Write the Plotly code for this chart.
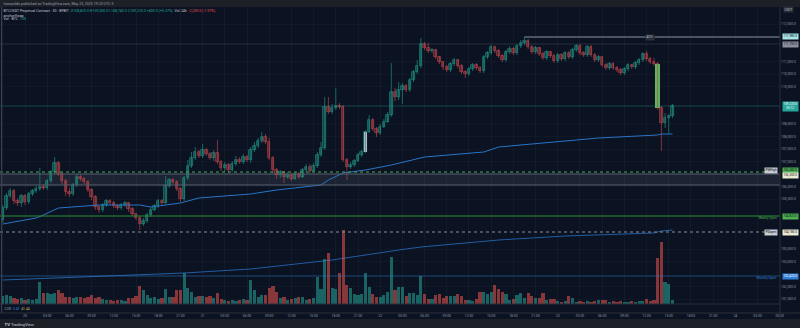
import pandas as pd
import plotly.graph_objects as go

# ---------------- data ----------------
symbol_title = "BTCUSDT Perpetual Contract · 30 · BYBIT"
publish_line = "lowcooldo published on TradingView.com, May 23, 2025 19:23 UTC-3"

start_time = "2025-05-19 21:00"
first_open = 104660

closes = [
    105140, 105620, 105820, 105420, 105340, 105620, 105380, 105700, 105820, 105900,
    105980, 105940, 106220, 106580, 106940, 106500, 106220, 105780, 105700, 106060,
    106380, 106300, 106180, 105860, 105580, 105180, 105060, 105260, 105420, 105340,
    105220, 105140, 105260, 105340, 105100, 104900, 104740, 104500, 104620, 104860,
    105060, 105220, 105420, 105340, 106020, 106260, 106180, 105900, 105500, 106340,
    106820, 107140, 107380, 107220, 107460, 107300, 107140, 107340, 106980, 106740,
    106860, 106660, 106900, 107060, 106980, 107180, 107060, 107460, 107620, 107820,
    107980, 107780, 107140, 106660, 106460, 106580, 106380, 106460, 106300, 106500,
    106380, 106660, 106780, 106620, 106820, 107260, 107540, 109180, 108980, 109140,
    109220, 109180, 107060, 106780, 106860, 107020, 107260, 107380, 108180, 108660,
    108300, 108140, 108380, 108580, 108860, 109780, 109580, 109860, 110020, 109860,
    110260, 110580, 110820, 111700, 111540, 111420, 111460, 111180, 110980, 110780,
    110660, 110900, 111060, 110820, 110580, 110500, 110700, 110860, 110740, 110620,
    111180, 111340, 111580, 111420, 111220, 111060, 111380, 111500, 111340, 111620,
    111740, 111820, 111580, 111380, 111540, 111300, 111140, 111380, 111220, 111020,
    111260, 111100, 111340, 111180, 111460, 111620, 111340, 111260, 111580, 111260,
    111060, 111180, 110860, 110740, 110900, 110740, 110660, 110540, 110700, 110860,
    110780, 110940, 111060, 111300, 111100, 110980, 110900, 109140, 108540, 108740,
    108820, 109220,
]
highs = [
    105260, 105740, 105940, 105900, 105540, 105700, 105700, 105780, 105900, 106020,
    106740, 106100, 106300, 106660, 107180, 107020, 106580, 106300, 105940, 106140,
    106500, 106460, 106380, 106260, 105940, 105660, 105260, 105340, 105500, 105500,
    105420, 105300, 105340, 105420, 105380, 105180, 104940, 104820, 104740, 104940,
    105180, 105300, 105500, 105500, 106420, 106340, 106340, 106260, 105980, 106420,
    107060, 107380, 107580, 107460, 107700, 107540, 107380, 107460, 107860, 107060,
    106980, 106940, 107020, 107220, 107180, 107300, 107260, 107580, 107780, 107940,
    108180, 108100, 107940, 107220, 106740, 106660, 106620, 106580, 106540, 106580,
    106580, 106740, 106900, 106900, 106940, 107380, 107780, 109580, 109580, 109300,
    109940, 109340, 109260, 107140, 106980, 107100, 107340, 107460, 108260, 108860,
    108740, 108380, 108500, 108700, 108980, 110940, 109940, 110180, 110140, 110100,
    110340, 110660, 111060, 111940, 111780, 111740, 111540, 111500, 111220, 111020,
    110860, 110980, 111140, 111100, 110900, 110660, 110780, 110940, 110940, 110820,
    111260, 111420, 111660, 111620, 111500, 111300, 111460, 111620, 111580, 111700,
    111860, 111980, 111900, 111660, 111620, 111580, 111380, 111460, 111420, 111300,
    111340, 111340, 111420, 111420, 111540, 111700, 111700, 111420, 111660, 111660,
    111340, 111260, 111220, 110940, 110980, 110980, 110820, 110740, 110780, 110940,
    110900, 111020, 111140, 111380, 111420, 111180, 111140, 110980, 109220, 108940,
    108900, 109300,
]
lows = [
    104540, 105060, 105540, 105300, 105220, 105180, 105260, 105300, 105620, 105740,
    105820, 105860, 105860, 106140, 106500, 106420, 106100, 105620, 105580, 105620,
    105980, 106220, 106100, 105780, 105460, 105060, 104940, 104980, 105180, 105260,
    105140, 105060, 105060, 105180, 104980, 104820, 104660, 104260, 104420, 104540,
    104780, 105020, 105140, 105260, 105300, 105940, 106100, 105820, 105380, 105420,
    106260, 106740, 107060, 107140, 107140, 107220, 107060, 107020, 106900, 106620,
    106580, 106540, 106580, 106820, 106900, 106900, 106980, 106940, 107380, 107540,
    107740, 107700, 107060, 106540, 106300, 106340, 106140, 106300, 106220, 106260,
    106300, 106340, 106580, 106540, 106580, 106740, 107180, 107460, 108900, 108900,
    109060, 109100, 106980, 106260, 106700, 106780, 106980, 107180, 107340, 108140,
    108220, 107980, 108060, 108340, 108540, 108780, 109420, 109460, 109300, 109780,
    109780, 110180, 110500, 110740, 111460, 111340, 111340, 111100, 110900, 110660,
    110580, 110580, 110820, 110740, 110500, 110340, 110420, 110620, 110660, 110540,
    110540, 111100, 111260, 111340, 111140, 110980, 110980, 111300, 111260, 111260,
    111540, 111660, 111500, 111300, 111300, 111220, 111060, 111060, 111140, 110940,
    110940, 111020, 111020, 111100, 111100, 111380, 111260, 111180, 111180, 111180,
    110980, 110980, 110780, 110660, 110660, 110660, 110580, 110460, 110460, 110620,
    110700, 110700, 110860, 110980, 111020, 110900, 110820, 109060, 107420, 108340,
    108140, 108740,
]
volumes = [
    200, 225, 200, 150, 125, 150, 100, 125, 100, 125,
    550, 275, 275, 250, 275, 350, 275, 175, 175, 150,
    175, 175, 150, 175, 225, 150, 175, 125, 100, 100,
    75, 100, 100, 75, 150, 150, 200, 450, 350, 225,
    150, 175, 125, 150, 375, 175, 175, 350, 350, 775,
    400, 300, 175, 200, 200, 175, 200, 150, 275, 125,
    100, 75, 100, 75, 100, 125, 100, 600, 350, 175,
    225, 225, 400, 450, 300, 150, 175, 100, 125, 150,
    175, 175, 100, 125, 150, 675, 375, 1125, 1275, 400,
    375, 775, 1850, 475, 400, 250, 225, 250, 775, 425,
    250, 175, 175, 225, 300, 1175, 350, 425, 425, 200,
    275, 275, 225, 700, 250, 125, 125, 225, 250, 150,
    200, 200, 200, 250, 200, 100, 100, 75, 125, 300,
    300, 250, 300, 475, 375, 300, 250, 100, 125, 225,
    275, 150, 275, 200, 150, 150, 275, 100, 125, 125,
    75, 50, 75, 200, 150, 50, 75, 50, 75, 50,
    75, 100, 100, 100, 50, 75, 50, 75, 50, 50,
    75, 50, 75, 75, 125, 75, 100, 1150, 1550, 550,
    500, 100,
]

# session VWAP (candle index, value) and a slower anchored VWAP
vwap_idx = [0, 9, 11, 15, 26, 37, 40, 48, 53, 67, 74, 86, 88, 92, 98, 105,
            114, 121, 130, 134, 148, 161, 177, 178, 181]
vwap_val = [104500, 104740, 104860, 105140, 105260, 105260, 105180, 105340,
            105540, 105700, 105860, 106060, 106260, 106540, 106660, 106860,
            107180, 107260, 107380, 107580, 107780, 107940, 108060, 108100, 108100]
avwap_idx = [0, 49, 67, 89, 107, 113, 134, 152, 176, 178, 181]
avwap_val = [102260, 102540, 102700, 103060, 103460, 103580, 103860, 104020,
             104140, 104220, 104260]

# horizontal reference levels
day_high = 111700
pw_high = 106580
zone_top, zone_bottom = 106500, 106060
weekly_open = 104820
pd_open = 104180
monthly_level = 102420

# candles drawn with a highlight colour
highlight_idx = [98, 177]

# ---------------- derived ----------------
n = len(closes)
times = pd.date_range(start_time, periods=n, freq="30min")
opens = [first_open] + closes[:-1]
up = [c >= o for o, c in zip(opens, closes)]
half_hour_ms = 30 * 60 * 1000

UP_LINE, DN_LINE = "#1f8c80", "#b4434a"
UP_FILL, DN_FILL = "rgba(38,166,154,0.28)", "rgba(239,83,80,0.26)"
BG = "#0b1221"
TXT = "#8f95a3"

fig = go.Figure()

# volume (overlay, own axis)
fig.add_trace(go.Bar(
    x=times, y=volumes, yaxis="y2", width=0.86 * half_hour_ms,
    marker=dict(color=["rgba(38,166,154,0.55)" if u else "rgba(239,83,80,0.55)" for u in up],
                line=dict(width=0)),
    hoverinfo="skip",
))

# wicks
for is_up, col in ((True, UP_LINE), (False, DN_LINE)):
    wx, wy = [], []
    for i in range(n):
        if up[i] == is_up:
            wx += [times[i], times[i], None]
            wy += [lows[i], highs[i], None]
    fig.add_trace(go.Scatter(x=wx, y=wy, mode="lines", line=dict(color=col, width=0.7),
                             hoverinfo="skip"))

# bodies
for is_up, line_c, fill_c in ((True, UP_LINE, UP_FILL), (False, DN_LINE, DN_FILL)):
    idx = [i for i in range(n) if up[i] == is_up]
    fig.add_trace(go.Bar(
        x=[times[i] for i in idx],
        base=[min(opens[i], closes[i]) for i in idx],
        y=[max(abs(closes[i] - opens[i]), 25) for i in idx],
        width=0.66 * half_hour_ms,
        marker=dict(color=fill_c, line=dict(color=line_c, width=0.7)),
        hoverinfo="skip",
    ))

# highlighted candles
hl_colors = {98: "#b7bac3", 177: "rgba(92,196,96,0.92)"}
hl_width = {98: 0.8, 177: 1.45}
for i in highlight_idx:
    fig.add_trace(go.Bar(
        x=[times[i]], base=[min(opens[i], closes[i])], y=[abs(closes[i] - opens[i])],
        width=hl_width[i] * half_hour_ms,
        marker=dict(color=hl_colors[i], line=dict(width=0)), hoverinfo="skip",
    ))

# VWAP lines
fig.add_trace(go.Scatter(x=[times[i] for i in vwap_idx], y=vwap_val, mode="lines",
                         line=dict(color="#2a74c6", width=1.0), hoverinfo="skip"))
fig.add_trace(go.Scatter(x=[times[i] for i in avwap_idx], y=avwap_val, mode="lines",
                         line=dict(color="#2566b0", width=0.9), hoverinfo="skip"))

# ---------------- levels ----------------
ath_i = max(range(n), key=lambda i: highs[i])
ath = highs[ath_i]
last = closes[-1]

shapes = []
def hline(price, color, width=1, dash="solid"):
    shapes.append(dict(type="line", xref="paper", yref="y", x0=0, x1=1,
                       y0=price, y1=price, line=dict(color=color, width=width, dash=dash)))

shapes.append(dict(type="rect", xref="paper", yref="y", x0=0, x1=1, y0=zone_bottom, y1=zone_top,
                   fillcolor="rgba(120,128,150,0.16)", line=dict(width=0), layer="below"))
hline(zone_top, "#5b6070", 1)
hline(zone_bottom, "#5b6070", 1)
hline(day_high, "rgba(120,130,150,0.25)", 1)
hline(last, "rgba(38,166,154,0.35)", 1)
hline(pw_high, "#4caf50", 1, "dot")
hline(weekly_open, "#2e8b37", 1.1)
hline(pd_open, "#8a8e99", 1, "dot")
hline(monthly_level, "rgba(47,127,214,0.5)", 1.1)
# ATH line from the candle that set it
shapes.append(dict(type="line", xref="x", yref="y", x0=times[ath_i], x1=times[-1] + pd.Timedelta(hours=15),
                   y0=ath, y1=ath, line=dict(color="#8d95a6", width=1)))

# pane / frame separators
PANE_Y = 9 / 306
shapes += [
    dict(type="rect", xref="paper", yref="paper", x0=-0.01, x1=1.03, y0=1.0, y1=1.03,
         fillcolor="#1d2027", line=dict(width=0), layer="above"),
    dict(type="rect", xref="paper", yref="paper", x0=-0.01, x1=1.03, y0=-0.05, y1=-0.0196,
         fillcolor="#1d2027", line=dict(width=0)),
    dict(type="line", xref="paper", yref="paper", x0=0, x1=1.03, y0=0, y1=0,
         line=dict(color="#2a2f3c", width=1)),
    dict(type="line", xref="paper", yref="paper", x0=0, x1=1, y0=PANE_Y, y1=PANE_Y,
         line=dict(color="#2a2f3c", width=1)),
    dict(type="line", xref="paper", yref="paper", x0=1, x1=1, y0=-0.0196, y1=1,
         line=dict(color="#2a2f3c", width=1)),
    dict(type="line", xref="paper", yref="paper", x0=0.002, x1=0.002, y0=0, y1=1,
         line=dict(color="#3a3f4d", width=1.2)),
]

# ---------------- text ----------------
def fmt(p):
    return f"{p:,.1f}"

ann = []
def txt(x, y, s, color=TXT, size=3.6, xanchor="left", bg=None):
    ann.append(dict(xref="paper", yref="paper", x=x, y=y, text=s, showarrow=False,
                    xanchor=xanchor, yanchor="middle",
                    font=dict(size=size, color=color, family="Roboto"),
                    bgcolor=bg, borderpad=0.6))

def ypaper(px):
    return (313 - px) / 306

txt(0.003, ypaper(3.5), publish_line, "#9ca1ad", 3.6)

chg = last - opens[-1]
day_ref = closes[-49]
dchg = last - day_ref
g = "#26a69a"
line1 = (f"{symbol_title}  <span style='color:{g}'>O{fmt(opens[-1])} H{fmt(highs[-1])} "
         f"L{fmt(lows[-1])} C{fmt(last)} {chg:+,.1f} ({chg / opens[-1] * 100:+.2f}%)</span>"
         f"  Vol 24h  <span style='color:#ef5350'>{dchg:+,.1f} ({dchg / day_ref * 100:+.2f}%)</span>")
txt(0.003, ypaper(11), line1, "#c3c7d0", 3.6)
txt(0.003, ypaper(15), "anchorVwap", "#c3c7d0", 3.6)
txt(0.003, ypaper(19), f"Vol · BTC  <span style='color:{g}'>{volumes[-1]}</span>", "#c3c7d0", 3.6)

# right-axis price tags
tag_prices = []
def tag(price, bg, fc, text=None, shift=0):
    tag_prices.append(price)
    ann.append(dict(xref="paper", yref="y", x=1.002, y=price, text=text or fmt(price),
                    showarrow=False, xanchor="left", yanchor="middle", yshift=shift,
                    font=dict(size=3.1, color=fc, family="Roboto"), bgcolor=bg, borderpad=0.4))

tag(ath, "#a9e4e6", "#0b1221", shift=0.8)
tag(day_high, "#8b909c", "#0b1221", shift=-0.8)
tag(last, "#26a69a", "#ffffff", f"{fmt(last)}<br>06:12")
tag(pw_high, "#4caf50", "#0b1221", shift=1.8)
tag(zone_top, "#ecebd2", "#0b1221", shift=-1.8)
tag(weekly_open, "#4caf50", "#0b1221")
tag(pd_open, "#ecebd2", "#0b1221")
tag(monthly_level, "#2f7fd6", "#ffffff")
ann.append(dict(xref="paper", yref="paper", x=1.004, y=ypaper(9.5), text="USDT", showarrow=False,
                xanchor="left", yanchor="middle", font=dict(size=3.0, color="#c3c7d0"),
                bgcolor="#2a2e39", borderpad=0.5))

# in-chart level captions
def cap(price, s, color, bg=None, shift=0):
    ann.append(dict(xref="paper", yref="y", x=0.998, y=price, text=s, showarrow=False,
                    xanchor="right", yanchor="middle", yshift=shift,
                    font=dict(size=3.2, color=color, family="Roboto"), bgcolor=bg, borderpad=0.4))

ann.append(dict(xref="x", yref="y", x=times[-1] - pd.Timedelta(hours=3), y=ath, text="ATH",
                showarrow=False, font=dict(size=3.2, color="#c3c7d0"), bgcolor="#2a2f3c",
                borderpad=0.4))
cap(pw_high, "PWHigh", "#0b1221", "#c8cbd2", 1.5)
cap(weekly_open, "Weekly Open", "#4caf50", None, -2.5)
cap(pd_open, "PDopen", "#0b1221", "#c8cbd2")
cap(monthly_level, "Monthly Open", "#2f7fd6", None, -2)

# small lower pane legend and footer
txt(0.004, ypaper(308.5), "CVD  <span style='color:#2f7fd6'>0.43</span>  <span style='color:#c9b458'>41.44</span>",
    "#9ca1ad", 3.4)
txt(0.004, ypaper(323.5), "<b>TV</b> TradingView", "#c9ccd3", 4.2)

# ---------------- axes ----------------
x_start = times[0] - pd.Timedelta(minutes=23)
x_end = times[-1] + pd.Timedelta(hours=14, minutes=32)
tick_times = pd.date_range("2025-05-19 21:00", "2025-05-24 06:00", freq="3h")
tick_text = [str(ts.day) if ts.hour == 0 else ts.strftime("%H:%M") for ts in tick_times]
# price labels hidden where a level tag or the currency box sits on top of them
price_ticks = [v for v in range(101500, 112801, 500)
               if all(abs(v - p) > 330 for p in tag_prices)]

fig.update_layout(
    width=800, height=328, margin=dict(l=0, r=20, t=7, b=15),
    paper_bgcolor=BG, plot_bgcolor=BG, showlegend=False,
    barmode="overlay", bargap=0,
    shapes=shapes, annotations=ann,
    xaxis=dict(type="date", range=[x_start, x_end], tickvals=tick_times, ticktext=tick_text,
               tickfont=dict(size=3.4, color=TXT, family="Roboto"), showgrid=True,
               gridcolor="rgba(255,255,255,0.03)", gridwidth=1, zeroline=False,
               showline=False, ticks="", anchor="free", position=0, fixedrange=True),
    yaxis=dict(domain=[PANE_Y, 1], range=[101300, 113180], side="right",
               tickvals=price_ticks, ticktext=[fmt(v) for v in price_ticks],
               tickfont=dict(size=3.4, color=TXT, family="Roboto"), showgrid=True,
               gridcolor="rgba(255,255,255,0.022)", zeroline=False, showline=False,
               ticks="", fixedrange=True),
    yaxis2=dict(overlaying="y", range=[0, 7425], visible=False, fixedrange=True),
)

fig.write_html("out.html")
